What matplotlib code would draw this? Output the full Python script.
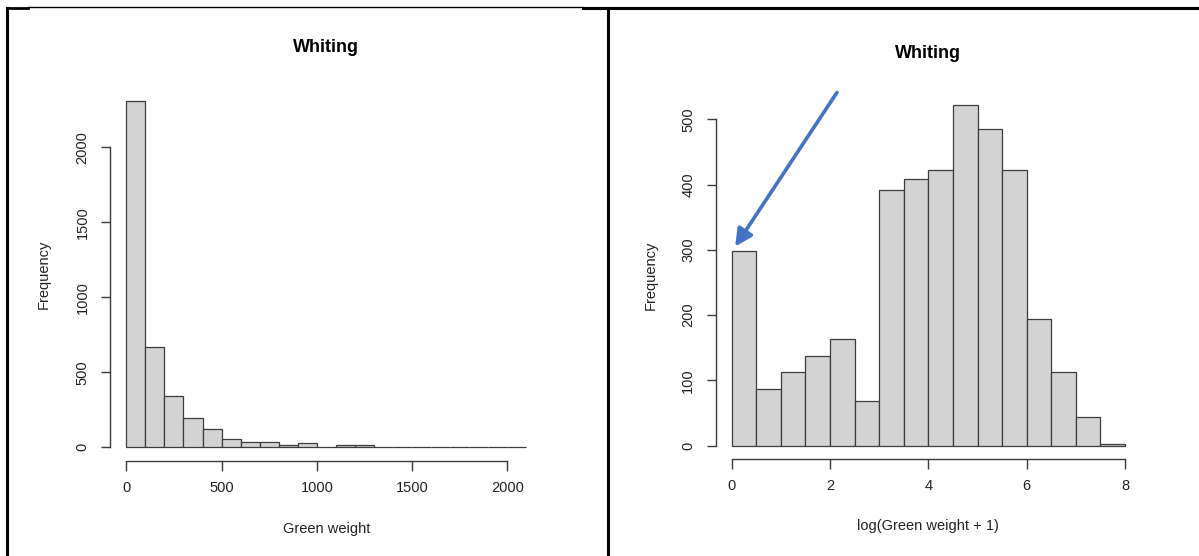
import numpy as np
import matplotlib
matplotlib.use('Agg')
import matplotlib.pyplot as plt
from matplotlib.lines import Line2D

plt.rcParams['font.family'] = ['Liberation Sans', 'DejaVu Sans']

# raw green weight histogram, bins of 100
raw_edges = np.arange(0, 2200, 100)
raw_counts = [2311, 671, 342, 193, 120, 55, 38, 38, 16, 27, 5,
              14, 14, 4, 3, 0, 2, 2, 0, 0, 1]
raw_ticks = [0, 500, 1000, 1500, 2000]
raw_yticks = [0, 500, 1000, 1500, 2000]

# log(weight + 1) histogram, bins of 0.5
log_edges = np.arange(0, 8.5, 0.5)
log_counts = [298, 87, 113, 137, 164, 68, 392, 408, 423, 522,
              485, 423, 194, 113, 44, 3]
log_ticks = [0, 2, 4, 6, 8]
log_yticks = [0, 100, 200, 300, 400, 500]

W, H = 1199, 556
fill = '#D3D3D3'
edge = '#3c3c3c'
axcol = '#3a3a3a'


def px_axes(fig, left, top, right, bottom):
    return fig.add_axes([left / W, 1 - bottom / H, (right - left) / W, (bottom - top) / H])


def r_lim(lo, hi):
    d = (hi - lo) * 0.04
    return lo - d, hi + d


def r_hist(ax, edges, counts, xticks, yticks, xlabel):
    w = edges[1] - edges[0]
    ax.bar(edges[:-1], counts, width=w, align='edge', color=fill,
           edgecolor=edge, linewidth=0.9)
    ax.set_xlim(*r_lim(edges[0], edges[-1]))
    ax.set_ylim(*r_lim(0, max(counts)))
    for s in ['top', 'right']:
        ax.spines[s].set_visible(False)
    ax.spines['left'].set_bounds(yticks[0], yticks[-1])
    ax.spines['bottom'].set_bounds(xticks[0], xticks[-1])
    for s in ['left', 'bottom']:
        ax.spines[s].set_color(axcol)
        ax.spines[s].set_linewidth(1.0)
    ax.set_xticks(xticks)
    ax.set_yticks(yticks)
    ax.tick_params(axis='x', direction='out', length=7, width=1.0, color=axcol,
                   labelsize=10.5, pad=7, labelcolor='#222222')
    ax.tick_params(axis='y', direction='out', length=6.5, width=1.0, color=axcol,
                   labelsize=10.5, pad=8.5, labelcolor='#222222')
    for lab in ax.get_yticklabels():
        lab.set_rotation(90)
        lab.set_va('center')
    ax.set_title('Whiting', fontsize=13, fontweight='bold', y=1.104, va='center', pad=0)
    ax.set_xlabel(xlabel, fontsize=10.5, va='center', color='#222222')
    ax.xaxis.set_label_coords(0.5, -0.182)
    ax.set_ylabel('Frequency', fontsize=10.5, va='center', color='#222222')
    ax.yaxis.set_label_coords(-0.154, 0.5)


fig = plt.figure(figsize=(W / 100, H / 100), dpi=100)

ax1 = px_axes(fig, 110.3, 86.8, 542.4, 461.2)
r_hist(ax1, raw_edges, raw_counts, raw_ticks, raw_yticks, 'Green weight')

ax2 = px_axes(fig, 716.0, 91.3, 1140.7, 459.3)
r_hist(ax2, log_edges, log_counts, log_ticks, log_yticks, 'log(Green weight + 1)')

# blue arrow pointing at the zero-weight bar
ax2.annotate('', xy=(log_edges[0] + 0.07, log_counts[0] + 7), xytext=(2.14, 541),
             arrowprops=dict(arrowstyle='-|>', color='#4472C4', lw=2.6,
                             mutation_scale=26, shrinkA=0, shrinkB=0),
             annotation_clip=False)

# table borders of the document
frame = [((7, 28), (8, 8), 2.0), ((28, 583), (7, 7), 1.0), ((583, W), (8, 8), 2.2),
         ((7, 7), (8, H), 2.2), ((608, 608), (8, H), 2.2)]
for xs, ys, lw in frame:
    fig.add_artist(Line2D([x / W for x in xs], [1 - y / H for y in ys],
                          transform=fig.transFigure, color='black', lw=lw))

fig.savefig('out.png', dpi=100, facecolor='white')
